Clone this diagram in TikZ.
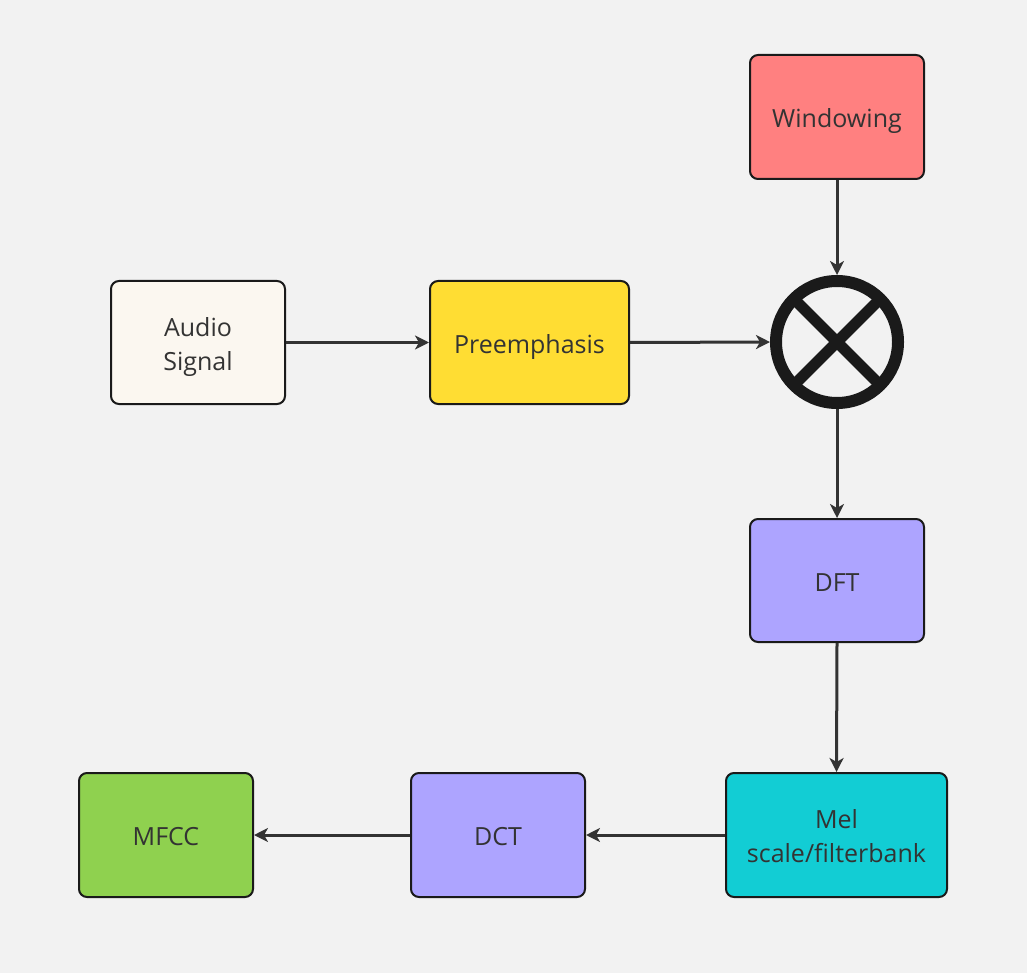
\documentclass[tikz,border=0pt]{standalone}
\usepackage{fontspec}
\setmainfont{Open Sans}
\usetikzlibrary{arrows.meta,calc}
\definecolor{bg}{HTML}{F2F2F2}
\definecolor{edge}{HTML}{1A1A1A}
\definecolor{txt}{HTML}{333333}
\definecolor{cwin}{HTML}{FF8080}
\definecolor{caud}{HTML}{FBF7F0}
\definecolor{cpre}{HTML}{FFDD33}
\definecolor{cdft}{HTML}{ADA4FF}
\definecolor{cmel}{HTML}{12CDD4}
\definecolor{cmfcc}{HTML}{8FD14F}
\newcommand{\lbl}[1]{\raisebox{-10.3pt}[0pt][0pt]{\begin{tabular}[c]{@{}c@{}}#1\end{tabular}}}
\tikzset{
  blk/.style={draw=edge, line width=2pt, rounded corners=8pt, align=center,
    text=txt, font=\fontsize{25}{34}\selectfont, inner sep=0pt},
  conn/.style={draw=txt, line width=3pt, -{Stealth[length=14pt,width=14pt,inset=4pt]}},
}
\begin{document}
\begin{tikzpicture}[x=1pt,y=-1pt]
\fill[bg] (0,0) rectangle (1027,973);
\useasboundingbox (0,0) rectangle (1027,973);
\node[blk, fill=cwin, minimum width=174pt, minimum height=124pt] (win) at (837,117) {\lbl{Windowing}};
\node[blk, fill=caud, minimum width=174pt, minimum height=123pt] (aud) at (198,342.5) {\lbl{Audio\\Signal}};
\node[blk, fill=cpre, minimum width=199pt, minimum height=123pt] (pre) at (529.5,342.5) {\lbl{Preemphasis}};
\node[circle, draw=edge, line width=12pt, minimum size=122pt, inner sep=0pt] (mult) at (837,342) {};
\draw[edge, line width=11pt] ($(mult.center)+(45:60)$) -- ($(mult.center)+(225:60)$);
\draw[edge, line width=11pt] ($(mult.center)+(135:60)$) -- ($(mult.center)+(315:60)$);
\node[blk, fill=cdft, minimum width=174pt, minimum height=123pt] (dft) at (837,580.5) {\lbl{DFT}};
\node[blk, fill=cmel, minimum width=221pt, minimum height=124pt] (mel) at (836.5,835) {\lbl{Mel\\scale/filterbank}};
\node[blk, fill=cdft, minimum width=174pt, minimum height=124pt] (dct) at (498,835) {\lbl{DCT}};
\node[blk, fill=cmfcc, minimum width=174pt, minimum height=124pt] (mfcc) at (166,835) {\lbl{MFCC}};
\draw[conn] (aud.east) -- (pre.west);
\draw[conn] (pre.east) -- (mult.west);
\draw[conn] (win.south) -- (mult.north);
\draw[conn] (mult.south) -- (dft.north);
\draw[conn] (dft.south) -- (mel.north);
\draw[conn] (mel.west) -- (dct.east);
\draw[conn] (dct.west) -- (mfcc.east);
\end{tikzpicture}
\end{document}
